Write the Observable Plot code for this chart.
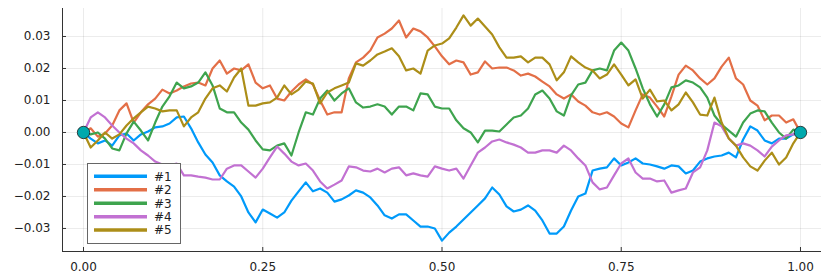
<!DOCTYPE html>
<html>
<head>
<meta charset="utf-8">
<script src="https://cdn.jsdelivr.net/npm/d3@7"></script>
<script src="https://cdn.jsdelivr.net/npm/@observablehq/plot@0.6"></script>
<style>
  body { margin: 0; background: #fff; }
  #wrap { position: relative; width: 838px; height: 280px; }
  #legend { position: absolute; left: 87px; top: 163px; }
</style>
</head>
<body>
<div id="wrap"><div id="chart"></div><div id="legend"></div></div>
<script>
// ---- data ----
const seriesNames = ["#1", "#2", "#3", "#4", "#5"];
const seriesColors = ["#009AFA", "#E36F47", "#3EA44E", "#C271D2", "#AC8E18"];
const t = d3.range(101).map(i => i / 100); // common time grid 0..1

const s1 = [0, -0.0019, -0.0034, -0.0025, -0.0041, -0.0009, -0.0003, -0.0025, -0.0006, 0.0003,
  0.0016, 0.0019, 0.0028, 0.0047, 0.0050, 0.0013, -0.0031, -0.0069, -0.0094, -0.0134,
  -0.0153, -0.0169, -0.0200, -0.0250, -0.0281, -0.0241, -0.0253, -0.0266, -0.0250, -0.0213,
  -0.0184, -0.0156, -0.0184, -0.0175, -0.0188, -0.0216, -0.0209, -0.0197, -0.0181, -0.0188,
  -0.0203, -0.0228, -0.0259, -0.0269, -0.0256, -0.0256, -0.0275, -0.0294, -0.0294, -0.0300,
  -0.0338, -0.0313, -0.0294, -0.0272, -0.0250, -0.0228, -0.0206, -0.0172, -0.0194, -0.0231,
  -0.0247, -0.0241, -0.0228, -0.0244, -0.0275, -0.0316, -0.0316, -0.0294, -0.0244, -0.0200,
  -0.0191, -0.0119, -0.0113, -0.0109, -0.0081, -0.0103, -0.0094, -0.0081, -0.0097, -0.0100,
  -0.0106, -0.0113, -0.0103, -0.0106, -0.0128, -0.0119, -0.0091, -0.0081, -0.0075, -0.0072,
  -0.0063, -0.0078, -0.0022, 0.0019, 0.0006, -0.0025, -0.0034, -0.0019, -0.0019, -0.0006,
  0];
const s2 = [0, 0.0013, -0.0013, -0.0003, 0.0022, 0.0069, 0.0091, 0.0031, 0.0063, 0.0088,
  0.0106, 0.0134, 0.0122, 0.0131, 0.0144, 0.0153, 0.0156, 0.0147, 0.0200, 0.0225,
  0.0184, 0.0200, 0.0194, 0.0213, 0.0156, 0.0138, 0.0147, 0.0106, 0.0100, 0.0128,
  0.0150, 0.0166, 0.0150, 0.0100, 0.0056, 0.0063, 0.0063, 0.0169, 0.0219, 0.0234,
  0.0256, 0.0297, 0.0309, 0.0325, 0.0350, 0.0297, 0.0325, 0.0316, 0.0297, 0.0269,
  0.0238, 0.0213, 0.0225, 0.0219, 0.0181, 0.0188, 0.0222, 0.0200, 0.0203, 0.0203,
  0.0194, 0.0178, 0.0184, 0.0175, 0.0159, 0.0144, 0.0119, 0.0106, 0.0119, 0.0097,
  0.0084, 0.0063, 0.0056, 0.0063, 0.0050, 0.0028, 0.0016, 0.0069, 0.0119, 0.0109,
  0.0081, 0.0050, 0.0113, 0.0181, 0.0209, 0.0194, 0.0169, 0.0150, 0.0169, 0.0206,
  0.0234, 0.0169, 0.0150, 0.0100, 0.0084, 0.0038, 0.0053, 0.0053, 0.0031, 0.0041,
  0];
const s3 = [0, -0.0006, 0, -0.0019, -0.0050, -0.0056, -0.0003, 0.0034, 0.0006, -0.0025,
  0.0031, 0.0081, 0.0113, 0.0156, 0.0138, 0.0144, 0.0156, 0.0188, 0.0147, 0.0075,
  0.0063, 0.0063, 0.0031, 0.0009, -0.0025, -0.0053, -0.0056, -0.0041, -0.0034, -0.0072,
  0, 0.0063, 0.0056, 0.0106, 0.0131, 0.0100, 0.0122, 0.0138, 0.0094, 0.0078,
  0.0081, 0.0088, 0.0081, 0.0056, 0.0081, 0.0081, 0.0069, 0.0122, 0.0119, 0.0081,
  0.0075, 0.0075, 0.0038, 0.0013, 0, -0.0031, 0.0006, 0.0006, 0.0003, 0.0025,
  0.0047, 0.0053, 0.0075, 0.0119, 0.0131, 0.0106, 0.0066, 0.0053, 0.0116, 0.0150,
  0.0156, 0.0194, 0.0200, 0.0194, 0.0256, 0.0281, 0.0256, 0.0200, 0.0138, 0.0088,
  0.0050, 0.0088, 0.0141, 0.0147, 0.0163, 0.0156, 0.0141, 0.0109, 0.0053, 0.0025,
  0.0006, -0.0013, 0.0031, 0.0059, 0.0069, 0.0066, 0.0031, 0, -0.0019, 0.0009,
  0];
const s4 = [0, 0.0047, 0.0063, 0.0047, 0.0022, 0, -0.0019, -0.0034, -0.0056, -0.0072,
  -0.0091, -0.0100, -0.0103, -0.0097, -0.0134, -0.0134, -0.0138, -0.0141, -0.0147, -0.0147,
  -0.0113, -0.0103, -0.0103, -0.0122, -0.0141, -0.0113, -0.0078, -0.0044, -0.0066, -0.0091,
  -0.0103, -0.0097, -0.0119, -0.0153, -0.0175, -0.0163, -0.0150, -0.0106, -0.0109, -0.0119,
  -0.0122, -0.0113, -0.0125, -0.0113, -0.0109, -0.0134, -0.0128, -0.0134, -0.0138, -0.0106,
  -0.0113, -0.0119, -0.0113, -0.0144, -0.0103, -0.0063, -0.0047, -0.0028, -0.0022, -0.0031,
  -0.0038, -0.0047, -0.0063, -0.0063, -0.0056, -0.0056, -0.0063, -0.0041, -0.0056, -0.0081,
  -0.0103, -0.0156, -0.0178, -0.0172, -0.0134, -0.0097, -0.0081, -0.0125, -0.0144, -0.0144,
  -0.0153, -0.0150, -0.0188, -0.0181, -0.0175, -0.0125, -0.0109, -0.0056, 0.0031, 0.0019,
  -0.0019, -0.0041, -0.0034, -0.0041, -0.0056, -0.0075, -0.0044, -0.0025, -0.0009, -0.0006,
  0];
const s5 = [0, -0.0047, -0.0025, 0, -0.0019, -0.0006, 0.0022, 0.0044, 0.0063, 0.0081,
  0.0075, 0.0066, 0.0069, 0.0069, 0.0019, 0.0047, 0.0063, 0.0106, 0.0138, 0.0147,
  0.0128, 0.0172, 0.0200, 0.0084, 0.0084, 0.0091, 0.0094, 0.0109, 0.0147, 0.0119,
  0.0134, 0.0159, 0.0153, 0.0091, 0.0125, 0.0138, 0.0147, 0.0156, 0.0216, 0.0209,
  0.0225, 0.0244, 0.0253, 0.0263, 0.0238, 0.0194, 0.0200, 0.0184, 0.0256, 0.0272,
  0.0278, 0.0294, 0.0328, 0.0366, 0.0334, 0.0356, 0.0331, 0.0306, 0.0266, 0.0234,
  0.0234, 0.0238, 0.0219, 0.0234, 0.0234, 0.0213, 0.0163, 0.0188, 0.0238, 0.0219,
  0.0203, 0.0194, 0.0169, 0.0181, 0.0213, 0.0181, 0.0147, 0.0166, 0.0106, 0.0134,
  0.0097, 0.0100, 0.0069, 0.0088, 0.0125, 0.0094, 0.0056, 0.0053, 0.0109, 0.0031,
  -0.0019, -0.0041, -0.0078, -0.0106, -0.0119, -0.0088, -0.0063, -0.0100, -0.0078, -0.0034,
  0];

const markerX = [0, 1];
const markerY = [0, 0];
const xTicks = [0, 0.25, 0.5, 0.75, 1];
const yTicks = [-0.03, -0.02, -0.01, 0, 0.01, 0.02, 0.03];

// ---- build table ----
const allSeries = [s1, s2, s3, s4, s5];
const rows = [];
allSeries.forEach((vals, k) => vals.forEach((v, i) => rows.push({t: t[i], v, series: seriesNames[k]})));

const W = 838, H = 280;
const mL = 62, mR = 17, mT = 8, mB = 29;
const xDomain = [-0.0293, 1.0293];
const yDomain = [-0.0372, 0.03875];
const axisColor = "#333";

const chart = Plot.plot({
  width: W, height: H,
  marginLeft: mL, marginRight: mR, marginTop: mT, marginBottom: mB,
  style: {fontFamily: "'DejaVu Sans', sans-serif", fontSize: "12px", color: "#222", background: "#fff"},
  x: {domain: xDomain, axis: null},
  y: {domain: yDomain, axis: null},
  color: {domain: seriesNames, range: seriesColors},
  marks: [
    Plot.gridX(xTicks, {stroke: "#000", strokeOpacity: 0.08, strokeWidth: 1}),
    Plot.gridY(yTicks, {stroke: "#000", strokeOpacity: 0.08, strokeWidth: 1}),
    Plot.line(rows, {x: "t", y: "v", z: "series", stroke: "series", strokeWidth: 2.2, curve: "linear"}),
    Plot.dot(markerX.map((x, i) => ({x, y: markerY[i]})), {x: "x", y: "y", r: 6.2, fill: "#00A9AD", stroke: "#1b1b1b", strokeWidth: 0.8}),
    Plot.ruleX([xDomain[0]], {stroke: axisColor, strokeWidth: 1}),
    Plot.ruleY([yDomain[0]], {stroke: axisColor, strokeWidth: 1}),
    Plot.tickY(yTicks, {y: d => d, stroke: axisColor, insetRight: W - mL - mR - 4}),
    Plot.tickX(xTicks, {x: d => d, stroke: axisColor, insetTop: H - mT - mB - 4}),
    Plot.axisX({ticks: xTicks, tickFormat: d3.format(".2f"), tickSize: 0, tickPadding: 11, fill: "#222"}),
    Plot.axisY({ticks: yTicks, tickFormat: d3.format(".2f"), tickSize: 0, tickPadding: 12, fill: "#222"})
  ]
});
document.getElementById("chart").appendChild(chart);

// ---- legend ----
const lg = d3.select("#legend").append("svg").attr("width", 95).attr("height", 82)
  .style("font-family", "'DejaVu Sans', sans-serif").style("font-size", "12px");
lg.append("rect").attr("x", 0.5).attr("y", 0.5).attr("width", 93).attr("height", 80)
  .attr("fill", "#fff").attr("stroke", "#666").attr("stroke-width", 1);
seriesNames.forEach((name, i) => {
  const cy = 13.3 + i * 13.45;
  lg.append("line").attr("x1", 7).attr("x2", 60).attr("y1", cy).attr("y2", cy)
    .attr("stroke", seriesColors[i]).attr("stroke-width", 3.5);
  lg.append("text").attr("x", 67).attr("y", cy).attr("dy", "0.36em").attr("fill", "#222").text(name);
});
</script>
</body>
</html>
